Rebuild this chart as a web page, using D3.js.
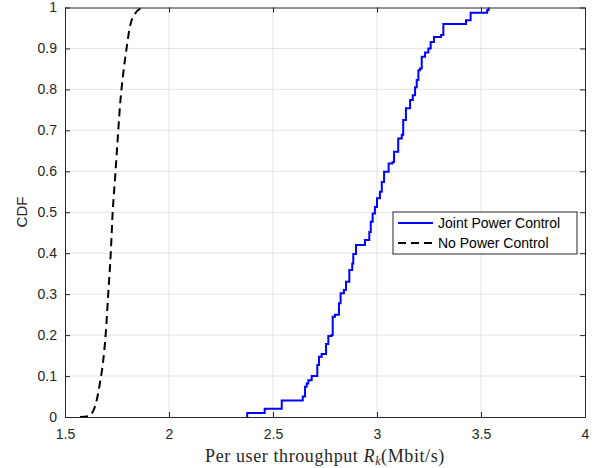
<!DOCTYPE html>
<meta charset="utf-8">
<body style="margin:0;background:#fff">
<script src="https://cdn.jsdelivr.net/npm/d3@7"></script>
<style>
svg { font-family: "Liberation Sans", Arial, sans-serif; }
.tick text { font-size: 14px; fill: #262626; }
</style>
<svg id="thesvg" width="603" height="468"></svg>
<script>
// ---- data ----
var xTicks = [1.5, 2, 2.5, 3, 3.5, 4]
var yTicks = [0, 0.1, 0.2, 0.3, 0.4, 0.5, 0.6, 0.7, 0.8, 0.9, 1]

// joint power control, empirical CDF (step)
var jointX = [2.376, 2.376, 2.46, 2.542, 2.643, 2.654, 2.662, 2.67, 2.686, 2.713, 2.721, 2.734, 2.755, 2.766, 2.782, 2.787, 2.798, 2.817, 2.825, 2.841, 2.851, 2.867, 2.881, 2.886, 2.899, 2.942, 2.963, 2.97, 2.979, 2.99, 3.0, 3.014, 3.023, 3.034, 3.056, 3.075, 3.082, 3.102, 3.119, 3.126, 3.139, 3.159, 3.172, 3.183, 3.191, 3.199, 3.207, 3.215, 3.231, 3.247, 3.258, 3.274, 3.308, 3.319, 3.428, 3.45, 3.53, 3.537]
var jointCdf = [0, 0.01, 0.02, 0.04, 0.05, 0.074, 0.082, 0.09, 0.10, 0.127, 0.147, 0.154, 0.178, 0.198, 0.20, 0.245, 0.25, 0.278, 0.302, 0.31, 0.33, 0.359, 0.375, 0.398, 0.42, 0.432, 0.452, 0.477, 0.497, 0.513, 0.534, 0.55, 0.574, 0.599, 0.619, 0.623, 0.648, 0.68, 0.689, 0.725, 0.754, 0.774, 0.786, 0.805, 0.823, 0.847, 0.851, 0.88, 0.89, 0.9, 0.916, 0.928, 0.933, 0.96, 0.969, 0.987, 0.994, 1]

// no power control, smooth CDF
var noX = [1.572, 1.612, 1.644, 1.668, 1.684, 1.696, 1.708, 1.72, 1.729, 1.74, 1.753, 1.764, 1.78, 1.797, 1.812, 1.837, 1.861, 1.88]
var noCdf = [0, 0.002, 0.025, 0.083, 0.139, 0.205, 0.302, 0.4, 0.498, 0.579, 0.676, 0.758, 0.839, 0.904, 0.953, 0.985, 0.997, 1]

var seriesNames = ["Joint Power Control", "No Power Control"]

// ---- layout ----
var L = 65, R = 585, T = 7.5, B = 417
var axisCol = "#262626"

var svg = d3.select("#thesvg")
var x = d3.scaleLinear().domain([1.5, 4]).range([L, R])
var y = d3.scaleLinear().domain([0, 1]).range([B, T])

// grid
var grid = svg.append("g")
grid.selectAll(".gx").data(xTicks.slice(1, -1)).enter().append("line")
    .attr("x1", d => x(d)).attr("x2", d => x(d))
    .attr("y1", T).attr("y2", B)
    .attr("stroke", "#e3e3e3").attr("stroke-width", 1)
grid.selectAll(".gy").data(yTicks.slice(1, -1)).enter().append("line")
    .attr("y1", d => y(d)).attr("y2", d => y(d))
    .attr("x1", L).attr("x2", R)
    .attr("stroke", "#e3e3e3").attr("stroke-width", 1)

// curves
var jointPts = jointX.map((v, i) => [v, jointCdf[i]])
var noPts = noX.map((v, i) => [v, noCdf[i]])

svg.append("path")
    .datum(jointPts)
    .attr("fill", "none").attr("stroke", "#0000ff").attr("stroke-width", 2)
    .attr("d", d3.line().x(d => x(d[0])).y(d => y(d[1])).curve(d3.curveStepAfter))

svg.append("path")
    .datum(noPts)
    .attr("fill", "none").attr("stroke", "#000").attr("stroke-width", 2)
    .attr("stroke-dasharray", "8,5")
    .attr("d", d3.line().x(d => x(d[0])).y(d => y(d[1])).curve(d3.curveMonotoneX))

// axes, ticks inward on all four sides (matlab box)
var ax = svg.append("g").attr("transform", "translate(0," + B + ")")
    .call(d3.axisBottom(x).tickValues(xTicks).tickSizeInner(-5).tickSizeOuter(0).tickPadding(12)
        .tickFormat(d3.format("")))
var ay = svg.append("g").attr("transform", "translate(" + L + ",0)")
    .call(d3.axisLeft(y).tickValues(yTicks).tickSizeInner(-5).tickSizeOuter(0).tickPadding(8)
        .tickFormat(d3.format("")))
var at = svg.append("g").attr("transform", "translate(0," + T + ")")
    .call(d3.axisTop(x).tickValues(xTicks).tickSizeInner(-5).tickSizeOuter(0).tickFormat(""))
var ar = svg.append("g").attr("transform", "translate(" + R + ",0)")
    .call(d3.axisRight(y).tickValues(yTicks).tickSizeInner(-5).tickSizeOuter(0).tickFormat(""))
;[ax, ay, at, ar].forEach(function (g) {
    g.select(".domain").attr("stroke", axisCol).attr("stroke-width", 1)
    g.selectAll(".tick line").attr("stroke", axisCol)
})

// labels
svg.append("text")
    .attr("transform", "translate(27,212) rotate(-90)")
    .attr("text-anchor", "middle")
    .attr("font-size", 15).attr("fill", axisCol)
    .text("CDF")

var xl = svg.append("text")
    .attr("x", 325).attr("y", 462)
    .attr("text-anchor", "middle")
    .attr("font-family", "'Liberation Serif', 'Times New Roman', serif")
    .attr("font-size", 18).attr("letter-spacing", 0.6).attr("fill", axisCol)
xl.append("tspan").text("Per user throughput ")
xl.append("tspan").attr("font-style", "italic").text("R")
xl.append("tspan").attr("font-style", "italic").attr("font-size", 12).attr("dy", 3).text("k")
xl.append("tspan").attr("dy", -3).text("(Mbit/s)")

// legend
var lg = svg.append("g").attr("transform", "translate(393,212)")
lg.append("rect").attr("width", 184).attr("height", 42)
    .attr("fill", "#fff").attr("stroke", axisCol).attr("stroke-width", 1)
var styles = [{ c: "#0000ff", dash: null }, { c: "#000", dash: "8,5" }]
seriesNames.forEach(function (name, i) {
    var yy = 11 + i * 20
    lg.append("line").attr("x1", 5).attr("x2", 40).attr("y1", yy).attr("y2", yy)
        .attr("stroke", styles[i].c).attr("stroke-width", 2)
        .attr("stroke-dasharray", styles[i].dash)
    lg.append("text").attr("x", 45).attr("y", yy + 5)
        .attr("font-size", 14).attr("fill", "#000").text(name)
})
</script>
</body>
